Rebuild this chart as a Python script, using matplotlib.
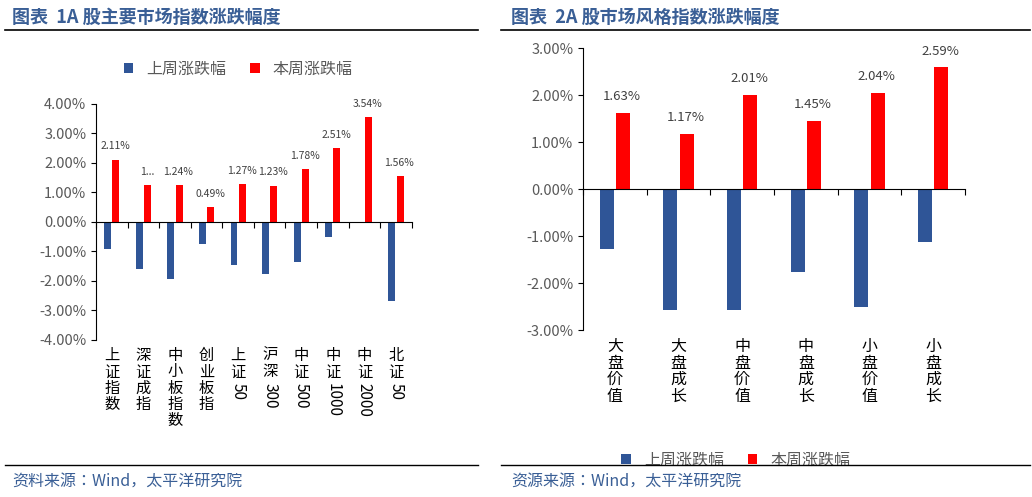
import matplotlib.pyplot as plt
import matplotlib.transforms as mtransforms
import numpy as np

CJK = ['Noto Sans CJK SC', 'Noto Sans CJK JP', 'Noto Sans CJK TC', 'Noto Sans CJK KR', 'DejaVu Sans']
plt.rcParams['font.family'] = 'sans-serif'
plt.rcParams['font.sans-serif'] = CJK

BLUE = '#2F5597'
RED = '#FF0000'
TITLE = '#3A5F96'
GREY = '#595959'

# left chart data
idx_names = ['上证指数', '深证成指', '中小板指数', '创业板指', '上证50', '沪深300', '中证500', '中证1000', '中证2000', '北证50']
idx_last = [-0.92, -1.58, -1.95, -0.75, -1.47, -1.75, -1.37, -0.52, 0.0, -2.68]
idx_this = [2.11, 1.25, 1.24, 0.49, 1.27, 1.23, 1.78, 2.51, 3.54, 1.56]
idx_labels = ['2.11%', '1...', '1.24%', '0.49%', '1.27%', '1.23%', '1.78%', '2.51%', '3.54%', '1.56%']

# right chart data
style_names = ['大盘价值', '大盘成长', '中盘价值', '中盘成长', '小盘价值', '小盘成长']
style_last = [-1.27, -2.58, -2.57, -1.76, -2.52, -1.13]
style_this = [1.63, 1.17, 2.01, 1.45, 2.04, 2.59]


def setup(ax, names, last, this, labels, ylim, step, bw, lab_fs, catfs):
    x = np.arange(len(names))
    ax.bar(x - bw / 2 - 0.02, last, bw, color=BLUE, label='上周涨跌幅')
    ax.bar(x + bw / 2 + 0.02, this, bw, color=RED, label='本周涨跌幅')
    for xi, v, t in zip(x, this, labels):
        ax.text(xi + bw / 2, v + (ylim[1] - ylim[0]) * 0.035, t, ha='center', va='bottom',
                fontsize=lab_fs, color='#404040')
    ax.set_xlim(-0.5, len(names) - 0.5)
    ax.set_ylim(*ylim)
    ticks = np.arange(ylim[0], ylim[1] + 0.001, step)
    ax.set_yticks(ticks)
    ax.set_yticklabels(['%.2f%%' % t for t in ticks], color=GREY, fontsize=10.5)
    for s in ['top', 'right']:
        ax.spines[s].set_visible(False)
    ax.spines['bottom'].set_position(('data', 0))
    ax.set_xticks(np.arange(len(names) + 1) - 0.5)
    ax.set_xticklabels([])
    ax.tick_params(axis='x', direction='out', length=4)
    trans = mtransforms.blended_transform_factory(ax.transData, ax.transAxes)
    for xi, n in zip(x, names):
        chars = n.rstrip('0123456789')
        digits = n[len(chars):]
        ax.text(xi, -0.03, '\n'.join(chars), transform=trans, ha='center', va='top',
                fontsize=catfs, linespacing=0.95)
        if digits:
            ax.annotate(digits, (xi, -0.03), xycoords=trans,
                        xytext=(0, -len(chars) * catfs * 1.12 - 1), textcoords='offset points',
                        rotation=270, ha='center', va='top', fontsize=catfs)


fig = plt.figure(figsize=(10.32, 4.97), dpi=100)

ax1 = fig.add_axes([0.093, 0.316, 0.306, 0.475])
setup(ax1, idx_names, idx_last, idx_this, idx_labels, (-4, 4), 1, 0.22, 7.5, 11)
ax1.legend(loc='lower center', bbox_to_anchor=(0.45, 1.05), ncol=2, frameon=False,
           fontsize=11.5, handlelength=0.6, handleheight=0.6, labelcolor=GREY, columnspacing=1.5)

ax2 = fig.add_axes([0.565, 0.336, 0.37, 0.567])
setup(ax2, style_names, style_last, style_this, ['%.2f%%' % v for v in style_this],
      (-3, 3), 1, 0.22, 9.5, 11.5)
ax2.legend(loc='upper center', bbox_to_anchor=(0.4, -0.38), ncol=2, frameon=False,
           fontsize=11.5, handlelength=0.6, handleheight=0.6, labelcolor=GREY, columnspacing=1.5)

# titles, rules and source lines
fig.text(0.012, 0.965, '图表  1A 股主要市场指数涨跌幅度', color=TITLE, fontsize=13, fontweight='bold',
         va='center')
fig.text(0.495, 0.965, '图表  2A 股市场风格指数涨跌幅度', color=TITLE, fontsize=13, fontweight='bold',
         va='center')
for x0, x1 in [(0.005, 0.463), (0.485, 0.998)]:
    fig.add_artist(plt.Line2D([x0, x1], [0.94, 0.94], color='black', lw=1.2))
    fig.add_artist(plt.Line2D([x0, x1], [0.065, 0.065], color='black', lw=1.0))
fig.text(0.012, 0.032, '资料来源：Wind，太平洋研究院', color=TITLE, fontsize=11.5, va='center')
fig.text(0.495, 0.032, '资源来源：Wind，太平洋研究院', color=TITLE, fontsize=11.5, va='center')

fig.savefig('out.png', dpi=100)
